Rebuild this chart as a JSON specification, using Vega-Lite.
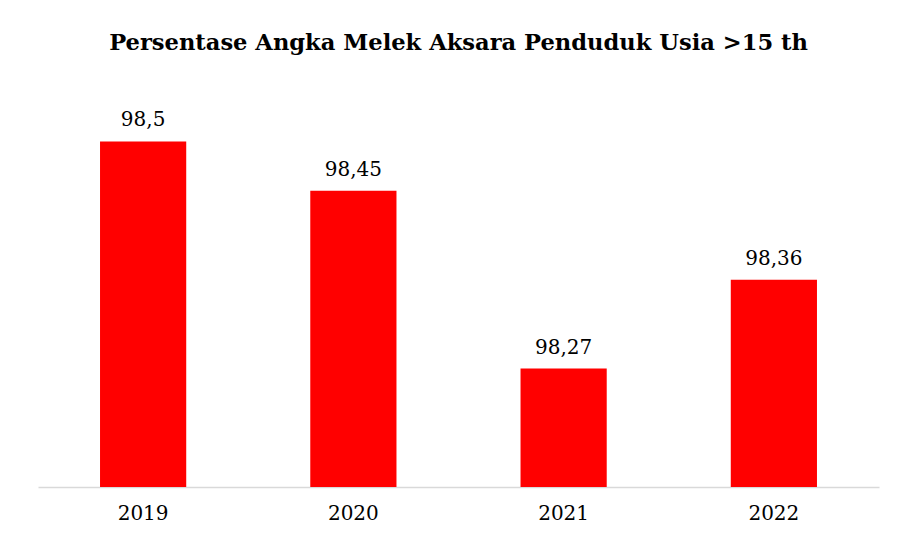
{
  "$schema": "https://vega.github.io/schema/vega-lite/v6.json",
  "autosize": "none",
  "width": 841,
  "height": 395,
  "padding": {"left": 38, "top": 92, "right": 18, "bottom": 56},
  "background": "white",
  "config": {
    "view": {"stroke": null},
    "locale": {"number": {"decimal": ",", "thousands": ".", "grouping": [3], "currency": ["", ""]}},
    "font": "DejaVu Serif",
    "text": {"font": "DejaVu Serif"}
  },
  "title": {
    "text": "Persentase Angka Melek Aksara Penduduk Usia >15 th",
    "font": "DejaVu Serif",
    "fontSize": 22.6,
    "fontWeight": "bold",
    "color": "#000000",
    "anchor": "middle",
    "offset": 37
  },
  "data": {
    "values": [
      {"tahun": "2019", "nilai": 98.5},
      {"tahun": "2020", "nilai": 98.45},
      {"tahun": "2021", "nilai": 98.27},
      {"tahun": "2022", "nilai": 98.36}
    ]
  },
  "encoding": {
    "x": {
      "field": "tahun",
      "type": "nominal",
      "sort": null,
      "scale": {"paddingInner": 0.59, "paddingOuter": 0.295},
      "axis": {
        "title": null,
        "labelAngle": 0,
        "labelFontSize": 20,
        "labelColor": "#000000",
        "labelFont": "DejaVu Serif",
        "labelPadding": 16,
        "ticks": false,
        "domainColor": "#d9d9d9",
        "domainWidth": 1.5
      }
    },
    "y": {
      "field": "nilai",
      "type": "quantitative",
      "scale": {"domain": [98.15, 98.55], "zero": false, "clamp": true},
      "axis": null
    }
  },
  "layer": [
    {"mark": {"type": "bar", "color": "#ff0000"}},
    {
      "mark": {"type": "text", "baseline": "alphabetic", "dy": -15, "fontSize": 20, "color": "#000000", "font": "DejaVu Serif"},
      "encoding": {"text": {"field": "nilai", "type": "quantitative", "format": ".4~r"}}
    }
  ]
}
